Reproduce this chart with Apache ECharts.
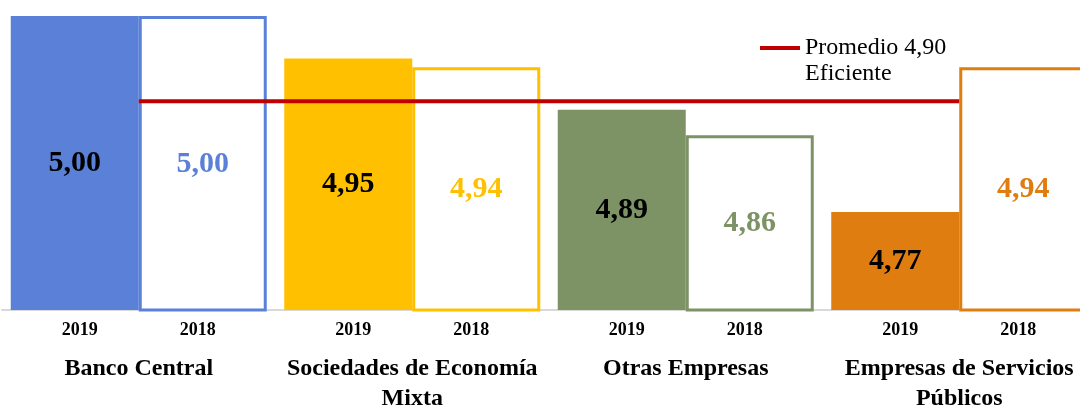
<!DOCTYPE html>
<html>
<head>
<meta charset="utf-8">
<script src="https://cdn.jsdelivr.net/npm/echarts@6/dist/echarts.min.js"></script>
<style>
  html, body { margin: 0; padding: 0; background: #fff; }
  #chart { width: 1080px; height: 405px; }
</style>
</head>
<body>
<div id="chart"></div>
<script>
// data
const categories = ['Banco Central', 'Sociedades de Economía\nMixta', 'Otras Empresas', 'Empresas de Servicios\nPúblicos'];
const years = ['2019', '2018'];
const values2019 = [5.00, 4.95, 4.89, 4.77];
const values2018 = [5.00, 4.94, 4.86, 4.94];
const promedio = [4.90, 4.90, 4.90, 4.90];
const promedioName = 'Promedio 4,90';

const colors = ['#5a81d7', '#ffc000', '#7e9365', '#df7d11'];
const serif = '"Liberation Serif", "Times New Roman", serif';

const fmt = p => p.value.toFixed(2).replace('.', ',');

const chart = echarts.init(document.getElementById('chart'));

const option = {
    animation: false,
    textStyle: { fontFamily: serif },
    grid: { left: 2, width: 1094, top: 16, bottom: 95, outerBoundsMode: 'none', containLabel: false },
    legend: {
        data: [promedioName],
        left: 755,
        top: 31,
        icon: 'rect',
        itemWidth: 40,
        itemHeight: 4,
        textStyle: { fontFamily: serif, fontSize: 24, color: '#000' }
    },
    graphic: [{
        type: 'text',
        left: 805,
        top: 62,
        style: { text: 'Eficiente', font: '24px ' + serif, fill: '#000' }
    }],
    xAxis: {
        type: 'category',
        data: categories,
        axisTick: { show: false },
        axisLine: { lineStyle: { color: '#d9d9d9', width: 2 } },
        axisLabel: {
            margin: 9,
            interval: 0,
            formatter: function (v) {
                const names = v.split('\n').map(s => '{n|' + s + '}').join('\n');
                return '{y|' + years[0] + '}{y|' + years[1] + '}\n{s| }\n' + names;
            },
            rich: {
                y: { fontFamily: serif, fontSize: 18, fontWeight: 'bold', color: '#000', width: 118, align: 'center', lineHeight: 22 },
                s: { fontSize: 8, lineHeight: 13 },
                n: { fontFamily: serif, fontSize: 24, fontWeight: 'bold', color: '#000', lineHeight: 30 }
            }
        }
    },
    yAxis: {
        type: 'value',
        min: 4.655,
        max: 5,
        show: false,
        splitLine: { show: false }
    },
    series: [
        {
            name: years[0],
            type: 'bar',
            barWidth: 128,
            barGap: '0%',
            data: values2019.map((v, i) => ({ value: v, itemStyle: { color: colors[i] } })),
            label: {
                show: true,
                position: 'inside',
                formatter: fmt,
                fontFamily: serif,
                fontSize: 30,
                fontWeight: 'bold',
                color: '#000'
            }
        },
        {
            name: years[1],
            type: 'bar',
            barWidth: 128,
            data: values2018.map((v, i) => ({
                value: v,
                itemStyle: { color: '#fff', borderColor: colors[i], borderWidth: 3 },
                label: { color: colors[i] }
            })),
            label: {
                show: true,
                position: 'inside',
                formatter: fmt,
                fontFamily: serif,
                fontSize: 30,
                fontWeight: 'bold'
            }
        },
        {
            name: promedioName,
            type: 'line',
            data: promedio,
            symbol: 'none',
            itemStyle: { color: '#c00000' },
            lineStyle: { color: '#c00000', width: 4 },
            z: 5
        }
    ]
};

chart.setOption(option);
</script>
</body>
</html>
